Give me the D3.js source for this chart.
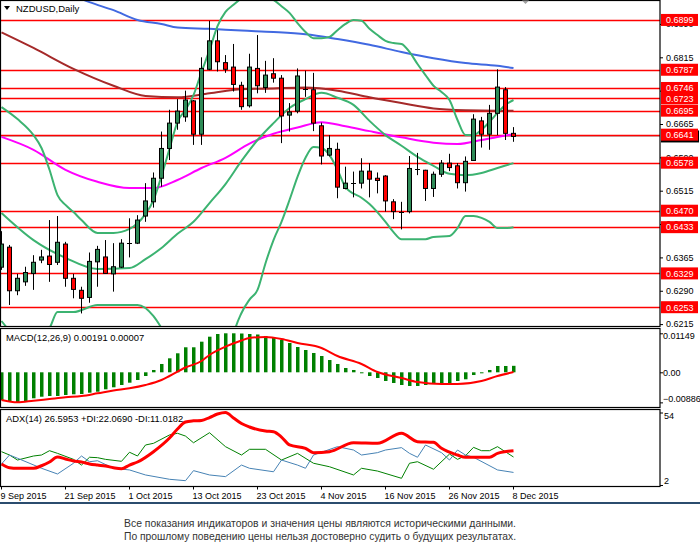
<!DOCTYPE html>
<html><head><meta charset="utf-8">
<script src="https://cdn.jsdelivr.net/npm/d3@7"></script>
<style>
body{margin:0;background:#fff;}
svg{display:block;font-family:"Liberation Sans",Arial,sans-serif;}
</style>
</head><body><svg id="c" width="700" height="552"></svg>
<script>
// ---------- DATA ----------
const dateLabels = ["9 Sep 2015","21 Sep 2015","1 Oct 2015","13 Oct 2015","23 Oct 2015","4 Nov 2015","16 Nov 2015","26 Nov 2015","8 Dec 2015"];
const dateIdx = [0,8,16,24,32,40,48,56,64];

const open  = [.6343,.6388,.6290,.6310,.6329,.6359,.6368,.6354,.6395,.6318,.6291,.6275,.6355,.6366,.6328,.6343,.6398,.6397,.6458,.6490,.6543,.6610,.6667,.6681,.6717,.6642,.6788,.6852,.6803,.6793,.6752,.6706,.6790,.6747,.6778,.6768,.6685,.6694,.6744,.6742,.6661,.6595,.6608,.6520,.6531,.6532,.6559,.6543,.6548,.6490,.6468,.6468,.6564,.6561,.6520,.6552,.6577,.6571,.6533,.6583,.6672,.6642,.6689,.6742,.6644];
const high  = [.6424,.6393,.6328,.6344,.6370,.6382,.6449,.6458,.6400,.6328,.6299,.6376,.6391,.6404,.6397,.6406,.6453,.6460,.6532,.6556,.6648,.6697,.6721,.6740,.6719,.6815,.6897,.6876,.6820,.6845,.6760,.6823,.6865,.6807,.6813,.6775,.6712,.6790,.6785,.6780,.6668,.6640,.6623,.6569,.6558,.6588,.6577,.6556,.6550,.6496,.6490,.6593,.6600,.6562,.6558,.6584,.6598,.6577,.6592,.6687,.6681,.6708,.6788,.6748,.6658];
const low   = [.6337,.6258,.6280,.6301,.6292,.6352,.6310,.6348,.6299,.6273,.6239,.6263,.6299,.6328,.6288,.6341,.6365,.6395,.6445,.6477,.6524,.6584,.6652,.6670,.6618,.6618,.6786,.6783,.6780,.6738,.6697,.6702,.6734,.6735,.6758,.6622,.6648,.6689,.6726,.6649,.6574,.6592,.6498,.6518,.6500,.6520,.6500,.6509,.6468,.6451,.6428,.6464,.6550,.6492,.6501,.6546,.6559,.6520,.6513,.6582,.6612,.6607,.6640,.6629,.6625];
const close = [.6395,.6290,.6318,.6331,.6354,.6366,.6349,.6399,.6318,.6293,.6273,.6356,.6383,.6329,.6344,.6397,.6399,.6449,.6492,.6543,.6610,.6667,.6694,.6719,.6642,.6790,.6852,.6805,.6788,.6754,.6704,.6793,.6751,.6775,.6768,.6683,.6692,.6773,.6743,.6667,.6593,.6610,.6523,.6532,.6532,.6559,.6541,.6538,.6492,.6468,.6467,.6565,.6564,.6520,.6552,.6577,.6567,.6533,.6581,.6676,.6642,.6689,.6748,.6644,.6637];

const levels = [0.6899,0.6787,0.6746,0.6723,0.6695,0.6641,0.6578,0.6470,0.6433,0.6329,0.6253];
const priceTicks = [0.6890,0.6815,0.6740,0.6665,0.6590,0.6515,0.6440,0.6365,0.6290,0.6215];
const bidPrice = 0.6637;

// Bollinger bands
const bbUpIdx = [0,2,4,5,6,7,8,9,10,12,14,16,18,19,20,21,22,23,24,25,26,27,28,29,30,31,32,33,34,35,36,37,38,39,40,41,42,43,44,45,46,47,48,49,50,51,52,53,54,55,56,57,58,59,60,61,62,63,64];
const bbUp    = [.6703,.6676,.6640,.6611,.6562,.6505,.6483,.6467,.6449,.6420,.6420,.6429,.6463,.6494,.6548,.6609,.6670,.6697,.6730,.6782,.6831,.6885,.6917,.6933,.6948,.6962,.6962,.6953,.6944,.6930,.6915,.6892,.6872,.6858,.6858,.6861,.6876,.6890,.6899,.6897,.6879,.6865,.6852,.6847,.6845,.6827,.6800,.6775,.6751,.6737,.6719,.6674,.6640,.6640,.6652,.6670,.6690,.6708,.6719];
const bbMidIdx = [0,4,8,12,16,18,20,22,24,26,28,30,32,34,36,38,40,42,44,46,48,50,52,54,56,58,60,62,64];
const bbMid    = [.6465,.6404,.6364,.6339,.6341,.6361,.6386,.6418,.6445,.6487,.6530,.6582,.6629,.6667,.6701,.6721,.6735,.6724,.6708,.6672,.6640,.6616,.6591,.6571,.6553,.6550,.6555,.6566,.6577];
const bbLowIdx = [0,2,5,6,7,9,12,17,19,20,22,24,26,28,29,30,31,32,33,34,35,36,37,38,39,40,41,42,43,45,46,48,49,50,53,54,56,57,58,59,60,61,62,63,64];
const bbLow    = [.6222,.6191,.6191,.6206,.6242,.6242,.6258,.6258,.6233,.6206,.6134,.6080,.6044,.6090,.6191,.6240,.6270,.6292,.6352,.6404,.6445,.6494,.6546,.6589,.6613,.6611,.6595,.6562,.6523,.6499,.6485,.6445,.6422,.6406,.6406,.6411,.6413,.6431,.6458,.6458,.6454,.6445,.6431,.6431,.6433];

// Moving averages
const maBlueIdx = [8,11,14,17,20,22,26,30,34,38,42,46,50,54,58,62,64];
const maBlue    = [.6962,.6939,.6921,.6899,.6890,.6882,.6879,.6875,.6872,.6867,.6856,.6843,.6827,.6813,.6802,.6796,.6791];
const maBrownIdx = [0,4,9,14,18,22,26,30,34,38,42,46,50,54,58,62,64];
const maBrown    = [.6871,.6836,.6789,.6751,.6728,.6725,.6734,.6743,.6745,.6747,.6740,.6725,.6712,.6700,.6696,.6695,.6695];
const maPinkIdx = [0,4,8,12,16,19,22,25,28,31,34,37,40,43,46,50,54,57,60,62,64];
const maPink    = [.6636,.6607,.6562,.6535,.6521,.6521,.6539,.6566,.6589,.6621,.6643,.6657,.6669,.6660,.6649,.6635,.6623,.6620,.6629,.6636,.6642];

// MACD(12,26,9)
const macdHist = [-0.00816,-0.00866,-0.00886,-0.00866,-0.00766,-0.00719,-0.00698,-0.00698,-0.00669,-0.00648,-0.00639,-0.00601,-0.00572,-0.00501,-0.00442,-0.00374,-0.00306,-0.00227,-0.00109,0.00068,0.00245,0.00412,0.00560,0.00737,0.00737,0.00902,0.01049,0.01128,0.01149,0.01149,0.01143,0.01128,0.01114,0.01070,0.01011,0.00952,0.00864,0.00745,0.00657,0.00569,0.00480,0.00362,0.00245,0.00127,0.00068,-0.00021,-0.00109,-0.00168,-0.00256,-0.00315,-0.00374,-0.00403,-0.00403,-0.00374,-0.00345,-0.00345,-0.00315,-0.00256,-0.00206,-0.00080,-0.00021,0.00068,0.00186,0.00186,0.00191];
const macdSigIdx = [0,2,4,6,8,10,12,14,16,18,20,21,23,25,26,28,30,31,33,35,37,40,42,45,47,50,52,55,57,60,62,64];
const macdSig    = [-0.00816,-0.00884,-0.00837,-0.00787,-0.00737,-0.00698,-0.00619,-0.00536,-0.00471,-0.00374,-0.00227,-0.00109,0.00141,0.00333,0.00510,0.00754,0.00937,0.01011,0.01040,0.00981,0.00863,0.00716,0.00480,0.00245,0.00009,-0.00168,-0.00286,-0.00345,-0.00345,-0.00256,-0.00109,0.00007];
const macdTicks = [0.01149,0,-0.00886];

// ADX(14)
const adxIdx = [0,1,2,4,5,6,7,8,9,10,11,12,13,14,15,16,17,19,21,22,23,24,25,26,27,28,29,30,31,33,34,35,36,38,39,41,44,47,50,52,54,55,57,58,61,62,64];
const adx    = [17.1,14.4,14.0,14.0,15.8,18.5,22.1,20.6,19.2,18.5,17.1,16.3,15.6,14.4,13.7,16.3,18.5,25.9,35.7,42.2,47.2,48.0,48.3,50.4,52.9,54.0,50.1,46.1,43.6,40.7,40.2,36.4,30.7,28.3,25.2,25.9,32.3,31.9,39.1,33.1,32.6,28.3,23.5,21.9,21.9,24.7,26.6];
const pdiIdx = [0,1,2,4,5,6,7,9,10,11,12,13,15,16,17,18,19,21,22,23,24,26,28,30,31,33,35,37,39,41,44,45,47,50,51,52,54,56,57,58,59,60,61,62,64];
const pdi    = [25.9,23.5,19.9,22.8,23.5,26.6,24.7,20.4,16.3,21.9,21.6,20.4,19.0,25.5,22.8,30.7,31.9,37.9,39.1,37.1,32.3,39.5,29.5,23.5,27.6,27.6,19.9,24.7,17.6,15.1,9.2,14.0,12.0,6.8,17.6,18.7,13.3,24.2,20.4,23.0,29.0,26.6,26.6,29.5,22.07];
const mdiIdx = [0,1,2,5,7,9,10,11,12,14,16,18,21,23,24,26,28,30,31,34,35,37,38,39,42,44,45,47,48,50,51,52,53,55,56,57,58,59,62,64];
const mdi    = [17.1,23.5,21.2,14.0,9.9,17.6,22.8,18.7,19.4,14.0,12.8,9.2,6.1,5.1,12.3,9.2,8.0,16.3,14.0,11.5,19.9,16.3,14.0,23.5,29.5,27.1,23.5,25.2,27.1,28.8,24.7,21.9,30.7,25.2,19.9,27.1,23.5,21.9,12.8,11.02];
const adxTicks = [54,2];

const footer = ["Все показания индикаторов и значения цены являются историческими данными.",
                "По прошлому поведению цены нельзя достоверно судить о будущих результатах."];

// ---------- LAYOUT ----------
const svg = d3.select("#c");
const AX = 660;
const P = {main:[0.5,326.5], macd:[328.5,407.5], adx:[409.5,486.5]};

const x  = d3.scaleLinear().domain([0,64]).range([1.5,513.5]);
const yP = d3.scaleLinear().domain([0.6215,0.6815]).range([324.1,57.3]);
const yM = d3.scaleLinear().domain([0,0.01149]).range([372.3,333.3]);
const yA = d3.scaleLinear().domain([2,54]).range([485,412.5]);

const defs = svg.append("defs");
Object.entries(P).forEach(([k,[a,b]])=>{
  defs.append("clipPath").attr("id","cl-"+k).append("rect").attr("x",0).attr("y",a).attr("width",AX).attr("height",b-a);
});
const gMain = svg.append("g").attr("clip-path","url(#cl-main)");
const gMacd = svg.append("g").attr("clip-path","url(#cl-macd)");
const gAdx  = svg.append("g").attr("clip-path","url(#cl-adx)");

const zip = (idx,v)=>idx.map((d,i)=>[d,v[i]]);
const ln = (ys,curve)=>d3.line().x(d=>x(d[0])).y(d=>ys(d[1])).curve(curve||d3.curveLinear);

// ---- main panel ----
gMain.append("line").attr("x1",0).attr("x2",AX).attr("y1",Math.round(yP(bidPrice))+0.5).attr("y2",Math.round(yP(bidPrice))+0.5)
  .attr("stroke","#c0c0c0").attr("stroke-width",1);
gMain.selectAll(".lvl").data(levels).enter().append("line")
  .attr("x1",0).attr("x2",AX).attr("y1",d=>Math.round(yP(d))+0.5).attr("y2",d=>Math.round(yP(d))+0.5)
  .attr("stroke","#ff0000").attr("stroke-width",1.3);

const ind = [
  [zip(maBlueIdx,maBlue),"#4169e1"],
  [zip(maBrownIdx,maBrown),"#a52a2a"],
  [zip(maPinkIdx,maPink),"#ff00ff"],
  [zip(bbUpIdx,bbUp),"#3cb371"],
  [zip(bbMidIdx,bbMid),"#3cb371"],
  [zip(bbLowIdx,bbLow),"#3cb371"]
];
ind.forEach(([d,c])=>{
  gMain.append("path").attr("d",ln(yP,d3.curveMonotoneX)(d)).attr("fill","none").attr("stroke",c).attr("stroke-width",2);
});

const idx = d3.range(open.length);
gMain.selectAll(".wick").data(idx).enter().append("line")
  .attr("x1",i=>x(i)).attr("x2",i=>x(i)).attr("y1",i=>yP(high[i])).attr("y2",i=>yP(low[i]))
  .attr("stroke","#000").attr("stroke-width",1);
idx.forEach(i=>{
  const o=open[i], c=close[i];
  if (Math.abs(o-c) < 0.00015) {
    const yy = Math.round(yP((o+c)/2))+0.5;
    gMain.append("line").attr("x1",x(i)-2.5).attr("x2",x(i)+2.5).attr("y1",yy).attr("y2",yy).attr("stroke","#000").attr("stroke-width",1);
  } else {
    const t = yP(Math.max(o,c)), b = yP(Math.min(o,c));
    gMain.append("rect").attr("x",x(i)-2).attr("y",t).attr("width",4).attr("height",Math.max(1,b-t))
      .attr("fill", c>o ? "#2e8b57" : "#ff0000").attr("stroke","#000").attr("stroke-width",1);
  }
});

// ---- MACD ----
gMacd.selectAll(".hb").data(macdHist).enter().append("rect")
  .attr("x",(d,i)=>x(i)-1.5).attr("width",3.5)
  .attr("y",d=>Math.min(yM(0),yM(d))).attr("height",d=>Math.max(1,Math.abs(yM(d)-yM(0))))
  .attr("fill","#008000");
gMacd.append("path").attr("d",ln(yM,d3.curveMonotoneX)(zip(macdSigIdx,macdSig))).attr("fill","none").attr("stroke","#ff0000").attr("stroke-width",2);

// ---- ADX ----
gAdx.append("path").attr("d",ln(yA)(zip(pdiIdx,pdi))).attr("fill","none").attr("stroke","#008000").attr("stroke-width",1);
gAdx.append("path").attr("d",ln(yA)(zip(mdiIdx,mdi))).attr("fill","none").attr("stroke","#4682b4").attr("stroke-width",1);
gAdx.append("path").attr("d",ln(yA,d3.curveMonotoneX)(zip(adxIdx,adx))).attr("fill","none").attr("stroke","#ff0000").attr("stroke-width",3);

// ---- frames ----
Object.values(P).forEach(([a,b])=>{
  svg.append("rect").attr("x",0.5).attr("y",a).attr("width",AX-0.5).attr("height",b-a)
    .attr("fill","none").attr("stroke","#000").attr("stroke-width",1.2);
});

// ---- axes ----
function styleAxis(g){
  g.select(".domain").remove();
  g.selectAll(".tick line").attr("stroke","#000");
  g.selectAll(".tick text").attr("fill","#000").attr("font-size","9px").attr("font-family","'Liberation Sans',Arial,sans-serif");
}
const axP = svg.append("g").attr("transform",`translate(${AX},0)`)
  .call(d3.axisRight(yP).tickValues(priceTicks).tickSize(3).tickPadding(3).tickFormat(d3.format(".4f")));
styleAxis(axP);

const axM = svg.append("g").attr("transform",`translate(${AX},0)`)
  .call(d3.axisRight(yM).tickValues(macdTicks).tickSize(3).tickPadding(0).tickFormat(d=>d===0?"0.00":d3.format(".5f")(d)));
styleAxis(axM);
axM.selectAll(".tick text").attr("dy",(d,i)=>i===0?"0.6em":(i===2?"-0.1em":"0.32em"));

const axA = svg.append("g").attr("transform",`translate(${AX},0)`)
  .call(d3.axisRight(yA).tickValues(adxTicks).tickSize(3).tickPadding(1).tickFormat(d3.format("d")));
styleAxis(axA);
axA.selectAll(".tick text").attr("dy",(d,i)=>i===0?"0.7em":"-0.2em");

const axX = svg.append("g").attr("transform",`translate(-0.5,${P.adx[1]})`)
  .call(d3.axisBottom(x).tickValues(dateIdx).tickSize(3).tickPadding(3).tickFormat((d,i)=>dateLabels[i]));
styleAxis(axX);
axX.selectAll(".tick text").attr("text-anchor","start").attr("dx","-1");

// price level labels
svg.append("rect").attr("x",AX+1).attr("y",yP(bidPrice)-6).attr("width",38).attr("height",12).attr("fill","#000");
levels.forEach(l=>{
  const yy = yP(l);
  svg.append("rect").attr("x",AX+1).attr("y",yy-6).attr("width",37).attr("height",12).attr("fill","#ff0000");
  svg.append("text").attr("x",AX+6).attr("y",yy+3.3).attr("fill","#fff").attr("font-size","9px").text(d3.format(".4f")(l));
});

// ---- titles ----
svg.append("path").attr("d","M4,6 L10,6 L7,10 Z").attr("fill","#000");
svg.append("text").attr("x",16).attr("y",12).attr("font-size","9.5px").attr("fill","#000").text("NZDUSD,Daily");
svg.append("path").attr("d","M522,0.5 L529,0.5 L525.5,4 Z").attr("fill","#a0a0a0");
svg.append("text").attr("x",6).attr("y",341).attr("font-size","9.4px").attr("fill","#000")
  .text(`MACD(12,26,9) ${macdHist[64].toFixed(5)} ${macdSig[macdSig.length-1].toFixed(5)}`);
svg.append("text").attr("x",6).attr("y",421.5).attr("font-size","9.4px").attr("fill","#000")
  .text("ADX(14) 26.5953 +DI:22.0690 -DI:11.0182");

// ---- separator & footer ----
svg.append("rect").attr("x",0).attr("y",502).attr("width",700).attr("height",2).attr("fill","#2b4c6e");
footer.forEach((t,i)=>{
  svg.append("text").attr("x",124).attr("y",527+i*12.5).attr("font-size","10.5px").attr("fill","#333")
    .attr("textLength",392).attr("lengthAdjust","spacingAndGlyphs").text(t);
});
</script>
</body></html>
